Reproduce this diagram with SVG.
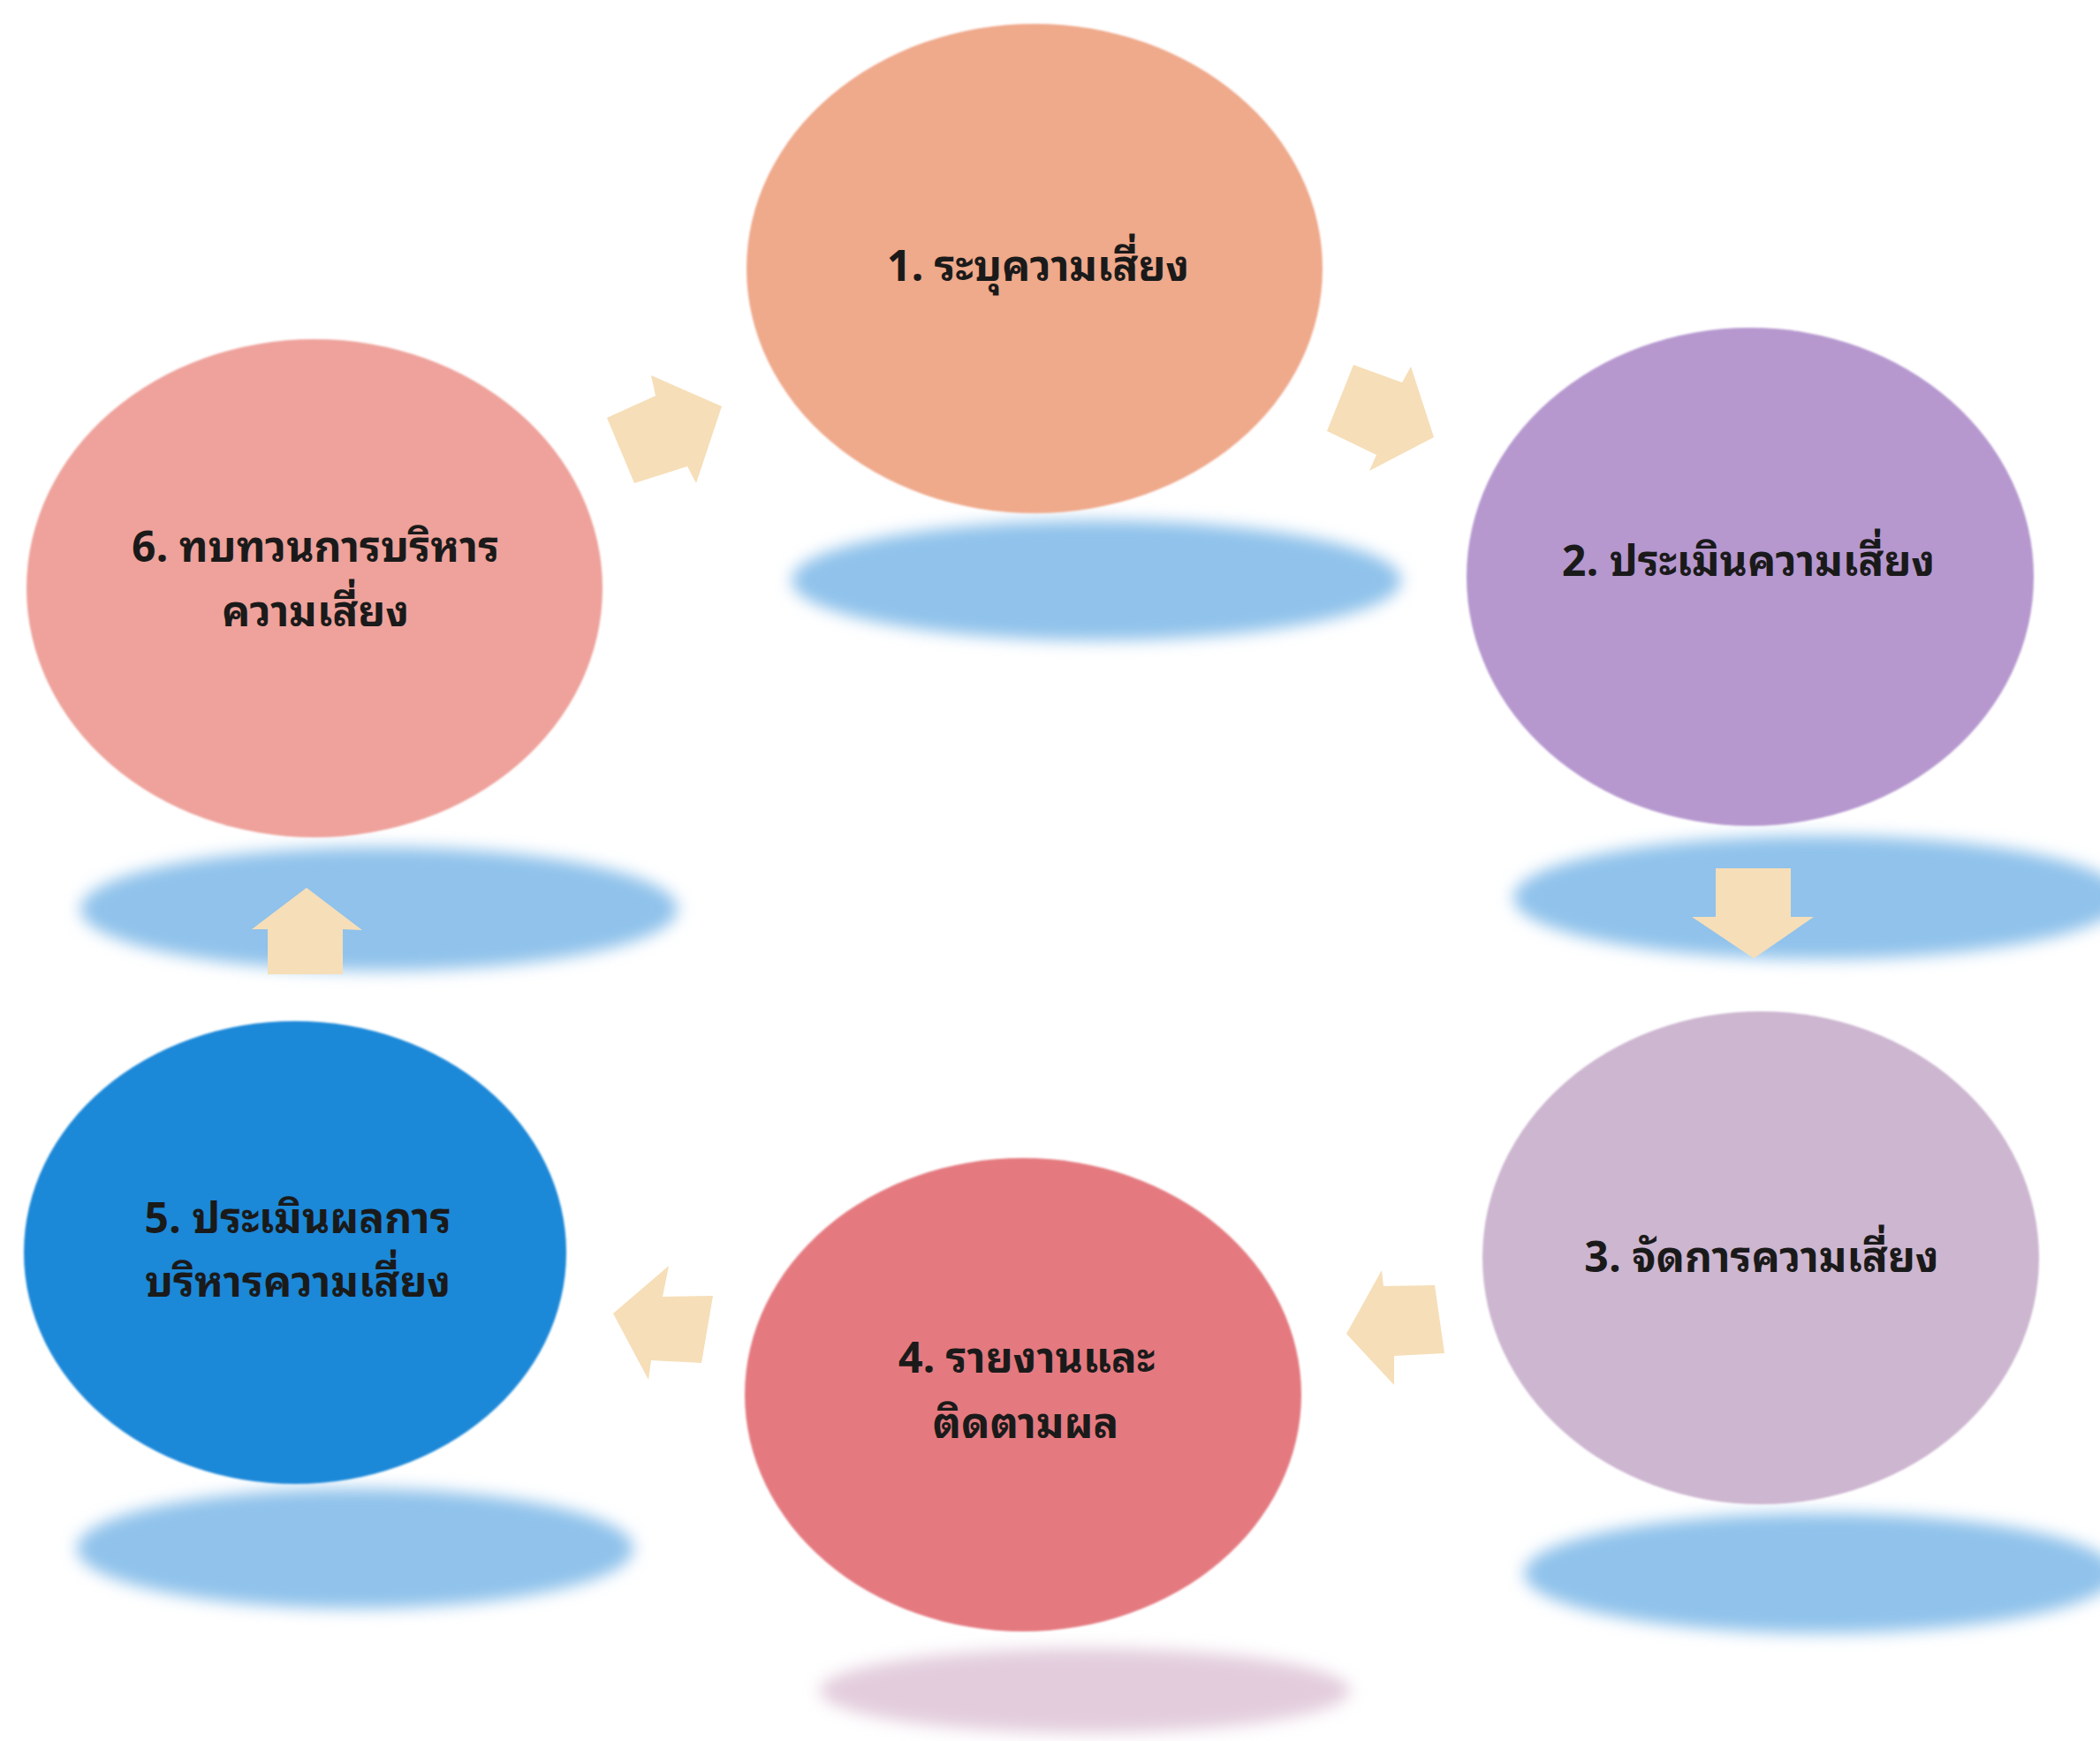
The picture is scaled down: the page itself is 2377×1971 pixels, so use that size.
<svg xmlns="http://www.w3.org/2000/svg" width="2377" height="1971" viewBox="0 0 2377 1971">
<defs>
<filter id="soft" x="-20%" y="-60%" width="140%" height="220%"><feGaussianBlur stdDeviation="9"/></filter>
<filter id="edge" x="-5%" y="-5%" width="110%" height="110%"><feGaussianBlur stdDeviation="1.2"/></filter>
<style>
.lbl{font-family:"Noto Sans Thai Looped","Noto Sans Thai","Tahoma","Liberation Sans","DejaVu Sans",sans-serif;font-weight:bold;font-size:48px;fill:#1a1a1a;text-anchor:middle}
.arrow{fill:#F6DEB8}
.shadow{fill:#90C2EB;filter:url(#soft)}
</style>
</defs>
<rect width="2377" height="1971" fill="#ffffff"/>
<g id="shadows">
<ellipse class="shadow" cx="1241" cy="657" rx="345" ry="68"/>
<ellipse class="shadow" cx="2058" cy="1016" rx="345" ry="70"/>
<ellipse class="shadow" cx="2060" cy="1781" rx="335" ry="68"/>
<ellipse class="shadow" cx="1228" cy="1914" rx="300" ry="48" style="fill:#E3CDDD"/>
<ellipse class="shadow" cx="402" cy="1753" rx="315" ry="68"/>
<ellipse class="shadow" cx="429" cy="1029" rx="338" ry="70"/>
</g>
<g id="node1">
<ellipse cx="1171" cy="304" rx="326" ry="277" fill="#EFA98B" filter="url(#edge)"/>
<text class="lbl" x="1175" y="318">1. ระบุความเสี่ยง</text>
</g>
<g id="node2">
<ellipse cx="1981" cy="653" rx="321" ry="282" fill="#B698CF" filter="url(#edge)"/>
<text class="lbl" x="1979" y="652">2. ประเมินความเสี่ยง</text>
</g>
<g id="node3">
<ellipse cx="1993" cy="1424" rx="315" ry="279" fill="#CDB6D0" filter="url(#edge)"/>
<text class="lbl" x="1994" y="1440">3. จัดการความเสี่ยง</text>
</g>
<g id="node4">
<ellipse cx="1158" cy="1579" rx="315" ry="268" fill="#E47A80" filter="url(#edge)"/>
<text class="lbl" x="1162" y="1554">4. รายงานและ</text>
<text class="lbl" x="1161" y="1628">ติดตามผล</text>
</g>
<g id="node5">
<ellipse cx="334" cy="1418" rx="307" ry="262" fill="#1D88D8" filter="url(#edge)"/>
<text class="lbl" x="337" y="1396">5. ประเมินผลการ</text>
<text class="lbl" x="337" y="1468">บริหารความเสี่ยง</text>
</g>
<g id="node6">
<ellipse cx="356" cy="666" rx="326" ry="282" fill="#EEA29B" filter="url(#edge)"/>
<text class="lbl" x="357" y="636">6. ทบทวนการบริหาร</text>
<text class="lbl" x="357" y="709">ความเสี่ยง</text>
</g>
<g id="connectors">
<polygon class="arrow" points="687,473 742,448 737,425 817,460 788,547 778,528 718,547"/>
<polygon class="arrow" points="1532,413 1587,433 1597,415 1623,495 1550,533 1558,515 1502,488"/>
<polygon class="arrow" points="1942,983 2027,983 2027,1038 2053,1038 1985,1085 1915,1038 1942,1038"/>
<polygon class="arrow" points="1624,1455 1635,1532 1578,1535 1578,1568 1524,1510 1564,1438 1566,1456"/>
<polygon class="arrow" points="807,1467 794,1543 737,1540 734,1562 694,1487 757,1433 750,1468"/>
<polygon class="arrow" points="303,1103 303,1052 285,1052 347,1005 410,1053 388,1052 388,1103"/>
</g>
</svg>
